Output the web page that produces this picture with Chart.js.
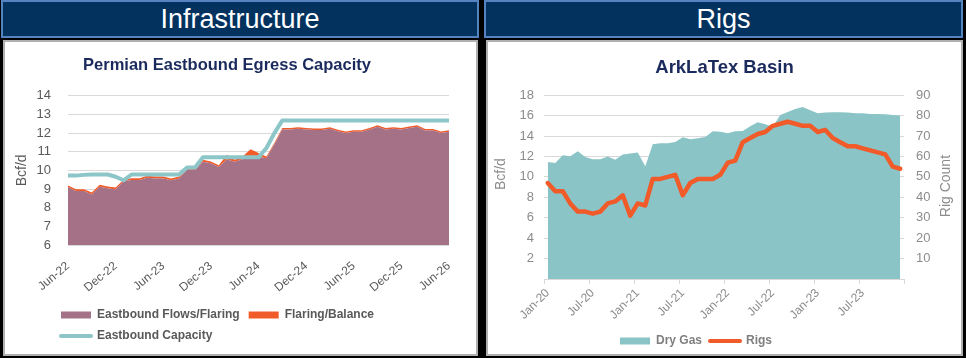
<!DOCTYPE html>
<html>
<head>
<meta charset="utf-8">
<script src="https://cdn.jsdelivr.net/npm/chart.js@4.4.1/dist/chart.umd.min.js"></script>
<style>
  html, body { margin: 0; padding: 0; background: #000; }
  body { width: 966px; height: 358px; position: relative; overflow: hidden; font-family: 'Liberation Sans', Arial, sans-serif; }
  .hdr { position: absolute; top: 0; height: 38px; box-sizing: border-box; background: #03325f; border: 2px solid #5583c0;
         color: #fff; font-size: 27px; line-height: 35px; text-align: center; }
  .box { position: absolute; top: 40px; height: 316px; box-sizing: border-box; background: #fff; border: 2px solid #b0b0b0; }
  .cv { position: absolute; top: 42px; height: 312px; }
</style>
</head>
<body>
<div class="hdr" style="left:1px;width:478px;">Infrastructure</div>
<div class="hdr" style="left:484px;width:479px;">Rigs</div>
<div class="box" style="left:3px;width:475px;"></div>
<div class="box" style="left:486px;width:477px;"></div>
<div class="cv" style="left:5px;width:471px;"><canvas id="c1"></canvas></div>
<div class="cv" style="left:488px;width:473px;"><canvas id="c2"></canvas></div>
<script>
// ---------- Left chart data ----------
const leftTitle = 'Permian Eastbound Egress Capacity';
const leftMonths = ['Jun-22','Jul-22','Aug-22','Sep-22','Oct-22','Nov-22','Dec-22','Jan-23','Feb-23','Mar-23','Apr-23','May-23',
  'Jun-23','Jul-23','Aug-23','Sep-23','Oct-23','Nov-23','Dec-23','Jan-24','Feb-24','Mar-24','Apr-24','May-24',
  'Jun-24','Jul-24','Aug-24','Sep-24','Oct-24','Nov-24','Dec-24','Jan-25','Feb-25','Mar-25','Apr-25','May-25',
  'Jun-25','Jul-25','Aug-25','Sep-25','Oct-25','Nov-25','Dec-25','Jan-26','Feb-26','Mar-26','Apr-26','May-26','Jun-26'];
const eastboundFlows = [9.09,8.89,8.89,8.71,9.13,9.04,8.98,9.40,9.48,9.48,9.61,9.57,
  9.57,9.47,9.57,10.03,10.03,10.47,10.38,10.18,10.59,10.47,10.60,10.79,
  10.73,10.65,11.39,12.19,12.19,12.23,12.19,12.16,12.17,12.23,12.10,12.01,
  12.07,12.07,12.19,12.34,12.19,12.23,12.19,12.28,12.34,12.14,12.14,12.01,12.07];
const flaringBalance = [0.10,0.10,0.10,0.10,0.10,0.10,0.10,0.10,0.10,0.10,0.10,0.10,
  0.10,0.10,0.10,0.06,0.06,0.10,0.10,0.10,0.25,0.10,0.15,0.35,
  0.20,0.10,0.08,0.08,0.08,0.08,0.08,0.08,0.08,0.08,0.08,0.08,
  0.08,0.08,0.08,0.08,0.08,0.08,0.08,0.08,0.08,0.08,0.08,0.08,0.08];
const eastboundCapacity = [9.72,9.72,9.76,9.78,9.78,9.78,9.66,9.47,9.78,9.78,9.78,9.78,
  9.78,9.78,9.78,10.16,10.16,10.70,10.70,10.70,10.70,10.70,10.70,10.70,
  10.70,11.20,12.00,12.68,12.68,12.68,12.68,12.68,12.68,12.68,12.68,12.68,
  12.68,12.68,12.68,12.68,12.68,12.68,12.68,12.68,12.68,12.68,12.68,12.68,12.68];
const leftYTicks = { min: 6, max: 14, step: 1 };

// ---------- Right chart data ----------
const rightTitle = 'ArkLaTex Basin';
const rightMonths = ['Jan-20','Feb-20','Mar-20','Apr-20','May-20','Jun-20','Jul-20','Aug-20','Sep-20','Oct-20','Nov-20','Dec-20',
  'Jan-21','Feb-21','Mar-21','Apr-21','May-21','Jun-21','Jul-21','Aug-21','Sep-21','Oct-21','Nov-21','Dec-21',
  'Jan-22','Feb-22','Mar-22','Apr-22','May-22','Jun-22','Jul-22','Aug-22','Sep-22','Oct-22','Nov-22','Dec-22',
  'Jan-23','Feb-23','Mar-23','Apr-23','May-23','Jun-23','Jul-23','Aug-23','Sep-23','Oct-23','Nov-23','Dec-23'];
const dryGas = [11.45,11.36,12.11,12.01,12.50,11.94,11.72,11.72,12.00,11.68,12.20,12.30,
  12.40,11.03,13.19,13.29,13.29,13.42,13.88,13.68,13.78,13.90,14.46,14.43,
  14.27,14.46,14.50,14.96,15.35,15.15,14.90,16.07,16.36,16.66,16.85,16.53,
  16.23,16.30,16.33,16.33,16.30,16.23,16.23,16.17,16.17,16.13,16.05,16.00];
const rigs = [47,43,43,37,33,33,32,33,37,38,41,31,
  37,36,49,49,50,51,41,47,49,49,49,51,
  57,58,67,69,71,72,75,76,77,76,75,75,
  72,73,69,67,65,65,64,63,62,61,55,54];
const rightLeftAxis = { min: 0, max: 18, step: 2, title: 'Bcf/d' };
const rightRightAxis = { min: 0, max: 90, step: 10, title: 'Rig Count' };

// ---------- Styles ----------
const FONT = "'Liberation Sans', Arial, sans-serif";
Chart.defaults.font.family = FONT;
const MAUVE = '#a57186', ORANGE = '#f15a29', TEAL_LINE = '#8dc6c8', TEAL_AREA = '#8bc4c6';
const NAVY = '#1b2a5c', GRID = '#d9d9d9';

function legendItems(chart, color) {
  return chart.data.datasets.map((ds, i) => ({
    text: ds.label,
    fillStyle: ds.legendKind === 'line' ? ds.borderColor : ds.backgroundColor,
    strokeStyle: ds.legendKind === 'line' ? ds.borderColor : ds.backgroundColor,
    lineWidth: ds.legendKind === 'line' ? 4 : 0,
    lineCap: 'round',
    pointStyle: ds.legendKind === 'line' ? 'line' : 'rect',
    fontColor: color,
    hidden: false,
    datasetIndex: i
  }));
}

const legendShift = {
  id: 'legendShift',
  afterLayout(chart, args, opts) {
    if (chart.legend && opts && opts.left != null) {
      const w = chart.legend.width;
      chart.legend.left = opts.left;
      chart.legend.right = opts.left + w;
    }
  }
};

const axisTexts = {
  id: 'axisTexts',
  afterDraw(chart, args, opts) {
    const ctx = chart.ctx, ca = chart.chartArea;
    (opts.items || []).forEach(it => {
      ctx.save();
      ctx.translate(it.x, (ca.top + ca.bottom) / 2 + (it.dy || 0));
      ctx.rotate(-Math.PI / 2);
      ctx.font = it.font;
      ctx.fillStyle = it.color;
      ctx.textAlign = 'center';
      ctx.textBaseline = 'middle';
      ctx.fillText(it.text, 0, 0);
      ctx.restore();
    });
  }
};

// ---------- Left chart ----------
new Chart(document.getElementById('c1'), {
  type: 'line',
  plugins: [legendShift],
  data: {
    labels: leftMonths,
    datasets: [
      { label: 'Eastbound Flows/Flaring', data: eastboundFlows, stack: 's', order: 1,
        backgroundColor: MAUVE, borderColor: 'rgba(0,0,0,0)', borderWidth: 0, fill: 'origin', pointRadius: 0, tension: 0, legendKind: 'box' },
      { label: 'Flaring/Balance', data: flaringBalance, stack: 's', order: 2,
        backgroundColor: ORANGE, borderColor: 'rgba(0,0,0,0)', borderWidth: 0, fill: '-1', pointRadius: 0, tension: 0, legendKind: 'box' },
      { label: 'Eastbound Capacity', data: eastboundCapacity, stack: 'c', order: 0,
        borderColor: TEAL_LINE, backgroundColor: TEAL_LINE, borderWidth: 4, fill: false, pointRadius: 0, tension: 0,
        borderJoinStyle: 'round', legendKind: 'line' }
    ]
  },
  options: {
    responsive: true, maintainAspectRatio: false, animation: false,
    layout: { padding: { left: 0, right: 27, top: 0, bottom: 3 } },
    plugins: {
      title: { display: true, text: leftTitle, color: NAVY, font: { size: 16.5, weight: 'bold' }, padding: { top: 14, bottom: 20 } },
      legend: { position: 'bottom', align: 'start', maxHeight: 51,
        labels: { usePointStyle: true, pointStyleWidth: 30, boxHeight: 7, padding: 9, color: '#595959',
          font: { size: 12, weight: 'bold' }, generateLabels: (c) => legendItems(c, '#595959') } },
      legendShift: { left: 47 },
      tooltip: { enabled: false }
    },
    scales: {
      x: {
        grid: { display: false }, border: { display: false },
        ticks: { autoSkip: false, maxRotation: 40, minRotation: 40, padding: 6, color: '#595959', font: { size: 12 },
          callback: (v, i) => (i % 6 === 0 ? leftMonths[i] : '') },
        afterFit: (s) => { s.height = 55; }
      },
      y: {
        stacked: true, min: leftYTicks.min, max: leftYTicks.max,
        grid: { color: GRID, drawTicks: false }, border: { display: false },
        ticks: { stepSize: leftYTicks.step, padding: 17, color: '#595959', font: { size: 13 } },
        title: { display: true, text: 'Bcf/d', color: '#595959', font: { size: 14 }, padding: { top: 9 } },
        afterFit: (s) => { s.width = 63; }
      }
    }
  }
});

// ---------- Right chart ----------
new Chart(document.getElementById('c2'), {
  type: 'line',
  plugins: [legendShift, axisTexts],
  data: {
    labels: rightMonths,
    datasets: [
      { label: 'Dry Gas', data: dryGas, yAxisID: 'y', order: 1,
        backgroundColor: TEAL_AREA, borderColor: 'rgba(0,0,0,0)', borderWidth: 0, fill: 'origin', pointRadius: 0, tension: 0, legendKind: 'box' },
      { label: 'Rigs', data: rigs, yAxisID: 'y1', order: 0,
        borderColor: ORANGE, backgroundColor: ORANGE, borderWidth: 4.5, fill: false, pointRadius: 0, tension: 0,
        borderJoinStyle: 'round', borderCapStyle: 'round', legendKind: 'line' }
    ]
  },
  options: {
    responsive: true, maintainAspectRatio: false, animation: false,
    layout: { padding: { left: 0, right: 0, top: 0, bottom: 0 } },
    plugins: {
      title: { display: true, text: rightTitle, color: NAVY, font: { size: 18.5, weight: 'bold' }, padding: { top: 15, bottom: 16 } },
      legend: { position: 'bottom', align: 'start', maxHeight: 27,
        labels: { usePointStyle: true, pointStyleWidth: 30, boxHeight: 7, padding: 8, color: '#7f7f7f',
          font: { size: 12, weight: 'bold' }, generateLabels: (c) => legendItems(c, '#7f7f7f') } },
      legendShift: { left: 124 },
      axisTexts: { items: [
        { text: rightLeftAxis.title, x: 13, dy: -13, font: "14px " + FONT, color: '#8c8c8c' },
        { text: rightRightAxis.title, x: 458, dy: -1, font: "14px " + FONT, color: '#8c8c8c' }
      ] },
      tooltip: { enabled: false }
    },
    scales: {
      x: {
        offset: true,
        grid: { display: true, drawOnChartArea: false, drawTicks: true, tickLength: 5, offset: true,
          color: (c) => (c.type !== 'tick' || c.index % 6 === 0) ? GRID : 'rgba(0,0,0,0)' },
        border: { display: true, color: GRID, width: 1 },
        ticks: { autoSkip: false, maxRotation: 45, minRotation: 45, padding: 2, color: '#8c8c8c', font: { size: 12 },
          callback: (v, i) => (i % 6 === 0 ? rightMonths[i] : '') },
        afterFit: (s) => { s.height = 48; }
      },
      y: {
        position: 'left', min: rightLeftAxis.min, max: rightLeftAxis.max,
        grid: { color: GRID, drawTicks: false }, border: { display: false },
        ticks: { stepSize: rightLeftAxis.step, padding: 10, color: '#8c8c8c', font: { size: 13 },
          callback: (v) => (v === 0 ? '' : v) },
        afterFit: (s) => { s.width = 56; }
      },
      y1: {
        position: 'right', min: rightRightAxis.min, max: rightRightAxis.max,
        grid: { display: false, drawTicks: false }, border: { display: false },
        ticks: { stepSize: rightRightAxis.step, padding: 12, color: '#8c8c8c', font: { size: 13 },
          callback: (v) => (v === 0 ? '' : v) },
        afterFit: (s) => { s.width = 57; }
      }
    }
  }
});
</script>
</body>
</html>
